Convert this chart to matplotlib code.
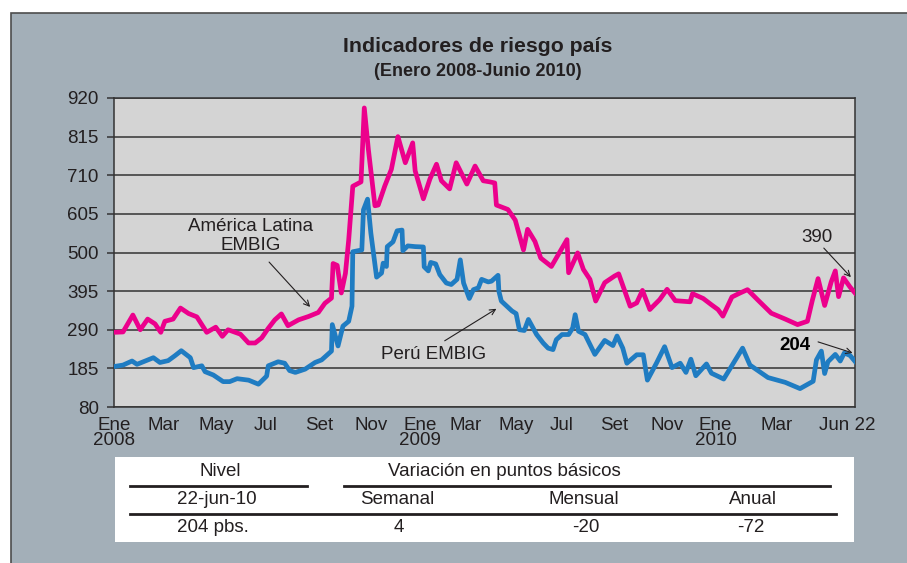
import numpy as np
import matplotlib.pyplot as plt
from matplotlib.patches import Rectangle
from matplotlib.lines import Line2D

plt.rcParams['font.family'] = ['Liberation Sans', 'DejaVu Sans']

# dias contados desde el 1 de enero de 2008 / spread en pbs
dias_al = [0, 11, 23, 32, 41, 50, 57, 62, 72, 81, 91, 101, 113, 124, 132, 139,
           154, 164, 172, 180, 188, 196, 204, 212, 225, 237, 249, 257, 265, 267,
           272, 277, 282, 286, 291, 301, 305, 310, 318, 322, 330, 338, 346, 355,
           364, 367, 377, 385, 393, 399, 409, 417, 430, 440, 450, 458, 464, 466,
           480, 489, 499, 504, 513, 520, 533, 552, 554, 565, 572, 580, 587, 598,
           610, 615, 629, 637, 644, 653, 665, 674, 684, 702, 705, 718, 728, 736,
           742, 753, 763, 772, 785, 801, 818, 833, 845, 851, 858, 866, 874, 879,
           883, 889, 897, 903]
embig_al = [283, 284, 330, 290, 319, 306, 283, 313, 319, 349, 334, 325, 283, 297,
            272, 290, 278, 254, 254, 268, 294, 317, 333, 301, 317, 326, 337, 362,
            376, 470, 465, 390, 443, 534, 680, 692, 893, 780, 627, 629, 681, 726,
            815, 744, 798, 722, 646, 700, 740, 695, 673, 744, 686, 735, 695, 692,
            689, 629, 617, 588, 507, 563, 530, 485, 462, 535, 445, 499, 454, 427,
            368, 418, 436, 442, 354, 363, 397, 345, 372, 400, 369, 366, 388, 375,
            358, 345, 327, 379, 390, 399, 370, 335, 319, 304, 313, 370, 429, 356,
            420, 450, 380, 431, 406, 390]

dias_pe = [0, 11, 22, 28, 38, 48, 56, 66, 74, 82, 93, 97, 107, 111, 121, 133,
           141, 150, 164, 176, 186, 188, 200, 208, 214, 221, 233, 245, 253, 265,
           266, 273, 279, 286, 290, 291, 302, 304, 309, 313, 320, 326, 328, 332,
           333, 340, 345, 351, 352, 358, 367, 377, 378, 383, 386, 392, 397, 405,
           411, 418, 422, 426, 433, 438, 444, 448, 456, 460, 468, 469, 472, 485,
           490, 494, 500, 505, 515, 523, 529, 535, 539, 546, 554, 559, 562, 566,
           574, 586, 598, 608, 613, 620, 625, 637, 645, 650, 661, 671, 680, 690,
           697, 703, 709, 722, 728, 743, 766, 775, 797, 818, 836, 852, 856, 862,
           866, 870, 879, 885, 890, 897, 903]
embig_pe = [190, 194, 205, 196, 205, 214, 201, 206, 219, 233, 214, 187, 192, 176,
            167, 149, 149, 157, 153, 142, 164, 192, 203, 199, 179, 174, 183, 201,
            208, 232, 304, 246, 300, 313, 354, 502, 507, 616, 645, 553, 433, 444,
            471, 462, 516, 529, 559, 561, 505, 518, 516, 515, 461, 450, 473, 469,
            440, 417, 413, 427, 480, 417, 375, 399, 404, 427, 420, 422, 438, 395,
            368, 341, 334, 290, 288, 318, 277, 254, 240, 236, 263, 277, 277, 295,
            331, 286, 277, 223, 261, 247, 273, 240, 199, 222, 222, 153, 199, 244,
            187, 199, 174, 210, 165, 197, 172, 156, 240, 194, 160, 147, 130, 150,
            208, 232, 171, 203, 223, 205, 227, 220, 204]

y_ticks = [80, 185, 290, 395, 500, 605, 710, 815, 920]
x_tick_dias = [0, 60, 124, 185, 250, 313, 373, 429, 490, 546, 610, 674, 733, 808, 893]
x_tick_labels = ['Ene\n2008', 'Mar', 'May', 'Jul', 'Set', 'Nov', 'Ene\n2009', 'Mar',
                 'May', 'Jul', 'Set', 'Nov', 'Ene\n2010', 'Mar', 'Jun 22']

# cuadro resumen
fecha_nivel = '22-jun-10'
var_nombres = ['Semanal', 'Mensual', 'Anual']
var_valores = [4, -20, -72]

rosa = '#ec008c'
azul = '#1f7cc2'
oscuro = '#231f20'
gris_fondo = '#a3afb8'
fs = 13.5

fig = plt.figure(figsize=(9.07, 5.63), dpi=100)
fig.patch.set_facecolor('white')
fondo = Rectangle((11 / 907, -0.01), 1.0, 1 - 13 / 563 + 0.01,
                  transform=fig.transFigure, facecolor=gris_fondo,
                  edgecolor='#4d4d4d', lw=1.2, zorder=-10)
fig.add_artist(fondo)

ax = fig.add_axes([114 / 907, 156 / 563, 741 / 907, 309 / 563])
ax.set_facecolor('#d4d4d4')
ax.plot(dias_pe, embig_pe, color=azul, lw=3.4, zorder=3)
ax.plot(dias_al, embig_al, color=rosa, lw=3.4, zorder=3)

ax.set_xlim(0, 903)
ax.set_ylim(80, 920)
ax.set_yticks(y_ticks)
ax.set_xticks(x_tick_dias)
ax.set_xticklabels(x_tick_labels, linespacing=0.85)
ax.yaxis.grid(True, color='#333333', lw=1.1)
ax.set_axisbelow(True)
for s in ax.spines.values():
    s.set_color('#333333')
    s.set_linewidth(1.1)
ax.tick_params(axis='y', length=5, width=1.1, color='#333333', pad=6,
               labelsize=fs, labelcolor=oscuro)
ax.tick_params(axis='x', length=0, pad=7, labelsize=fs, labelcolor=oscuro)

# etiquetas de las series
flecha = dict(arrowstyle='->', color=oscuro, lw=0.8, shrinkA=0, shrinkB=0)
ax.text(166, 545, 'América Latina\nEMBIG', ha='center', va='center', fontsize=fs,
        color=oscuro, linespacing=1.1)
ax.annotate('', xy=(239, 352), xytext=(189, 474), arrowprops=flecha)
ax.text(389, 224, 'Perú EMBIG', ha='center', va='center', fontsize=fs, color=oscuro)
ax.annotate('', xy=(466, 347), xytext=(403, 260), arrowprops=flecha)
ax.text(857, 542, f'{embig_al[-1]}', ha='center', va='center', fontsize=fs, color=oscuro)
ax.annotate('', xy=(898, 433), xytext=(865, 512), arrowprops=flecha)
ax.text(830, 246, f'{embig_pe[-1]}', ha='center', va='center', fontsize=fs,
        fontweight='bold', color='black')
ax.annotate('', xy=(900, 227), xytext=(858, 257), arrowprops=flecha)

fig.text(478 / 907, 1 - 46 / 563, 'Indicadores de riesgo país', ha='center', va='center',
         fontsize=15.3, fontweight='bold', color=oscuro)
fig.text(478 / 907, 1 - 71 / 563, '(Enero 2008-Junio 2010)', ha='center', va='center',
         fontsize=13, fontweight='bold', color=oscuro)

# cuadro inferior
tb = fig.add_axes([115 / 907, 21 / 563, 739 / 907, 85 / 563])
tb.set_facecolor('white')
tb.set_xlim(115, 854)
tb.set_ylim(542, 457)
tb.set_xticks([])
tb.set_yticks([])
for s in tb.spines.values():
    s.set_visible(False)

tb.text(220, 471, 'Nivel', ha='center', va='center', fontsize=fs, color=oscuro)
tb.text(504, 471, 'Variación en puntos básicos', ha='center', va='center', fontsize=fs,
        color=oscuro)
tb.add_line(Line2D([130, 307], [486, 486], color=oscuro, lw=2))
tb.add_line(Line2D([344, 830], [486, 486], color=oscuro, lw=2))
tb.text(217, 500, fecha_nivel, ha='center', va='center', fontsize=fs, color=oscuro)
col_x = [397, 584, 753]
for cx, nom in zip(col_x, var_nombres):
    tb.text(cx, 500, nom, ha='center', va='center', fontsize=fs, color=oscuro)
tb.add_line(Line2D([130, 836], [514, 514], color=oscuro, lw=2))
tb.text(213, 528, f'{embig_pe[-1]} pbs.', ha='center', va='center', fontsize=fs,
        color=oscuro)
for cx, val in zip([399, 586, 751], var_valores):
    tb.text(cx, 528, f'{val}', ha='center', va='center', fontsize=fs, color=oscuro)

fig.savefig('out.png', dpi=100)
